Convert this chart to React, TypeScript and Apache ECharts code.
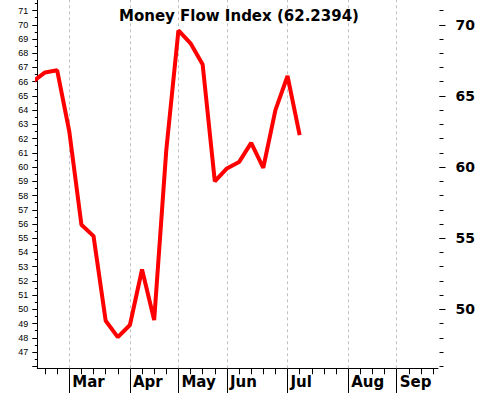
import React, { useEffect, useRef } from 'react';
import * as echarts from 'echarts';

// Weekly Money Flow Index readings (week index counted from the first week tick)
const weekIndex = [-1, 0, 1, 2, 3, 4, 5, 6, 7, 8, 9, 10, 11, 12, 13, 14, 15, 16, 17, 18, 19, 20, 21];
const mfiValues = [66.0, 66.65, 66.8, 62.5, 55.95, 55.15, 49.2, 48.05, 48.9, 52.8, 49.25, 61.2, 69.6, 68.7, 67.2, 59.0, 59.9, 60.35, 61.7, 59.95, 64.0, 66.4, 62.2394];

// Month labels and the week tick where each month starts
const monthLabels = ['Mar', 'Apr', 'May', 'Jun', 'Jul', 'Aug', 'Sep'];
const monthWeeks = [2, 7, 11, 15, 20, 25, 29];
const weekTicks = [0, 1, 2, 3, 4, 5, 6, 7, 8, 9, 10, 11, 12, 13, 14, 15, 16, 17, 18, 19, 20, 21, 22, 23, 24, 25, 26, 27, 28, 29, 30, 31, 32];

// Value axis ticks / labels
const leftLabelValues = [47, 48, 49, 50, 51, 52, 53, 54, 55, 56, 57, 58, 59, 60, 61, 62, 63, 64, 65, 66, 67, 68, 69, 70, 71];
const leftTickValues = [46, 47, 48, 49, 50, 51, 52, 53, 54, 55, 56, 57, 58, 59, 60, 61, 62, 63, 64, 65, 66, 67, 68, 69, 70, 71];
const leftHalfTicks = [46.5, 47.5, 48.5, 49.5, 50.5, 51.5, 52.5, 53.5, 54.5, 55.5, 56.5, 57.5, 58.5, 59.5, 60.5, 61.5, 62.5, 63.5, 64.5, 65.5, 66.5, 67.5, 68.5, 69.5, 70.5, 71.5];
const rightLabelValues = [50, 55, 60, 65, 70];
const rightTickValues = [46, 47, 48, 49, 50, 51, 52, 53, 54, 55, 56, 57, 58, 59, 60, 61, 62, 63, 64, 65, 66, 67, 68, 69, 70, 71];

const titleText = 'Money Flow Index (62.2394)';

const Y_MIN = 45.86;
const Y_MAX = 71.74;
const X_MIN = -0.639;
const X_MAX = 32.41;

export default function App() {
  const ref = useRef<HTMLDivElement>(null);

  useEffect(() => {
    if (!ref.current) return;
    const chart = echarts.init(ref.current, undefined, { renderer: 'svg' });

    const baseY = {
      type: 'value',
      min: Y_MIN,
      max: Y_MAX,
      splitLine: { show: false },
    };

    const option: any = {
      animation: false,
      backgroundColor: '#ffffff',
      title: {
        text: titleText,
        left: 'center',
        top: 3,
        textStyle: {
          fontFamily: 'DejaVu Sans',
          fontWeight: 'bold',
          fontSize: 15,
          color: '#000',
        },
      },
      grid: {
        left: 37.3,
        right: 40,
        top: 0,
        bottom: 24.7,
        containLabel: false,
        outerBoundsMode: 'none',
      },
      xAxis: [
        {
          type: 'value',
          min: X_MIN,
          max: X_MAX,
          position: 'bottom',
          splitLine: { show: false },
          axisLine: { show: true, onZero: false, lineStyle: { color: '#000', width: 1 } },
          axisTick: { show: true, customValues: weekTicks, length: 6, lineStyle: { color: '#000' } },
          axisLabel: {
            show: true,
            customValues: monthWeeks,
            formatter: (v: number) => {
              const i = monthWeeks.indexOf(Math.round(v));
              return i >= 0 ? monthLabels[i] : '';
            },
            align: 'left',
            verticalAlign: 'top',
            padding: [0, 0, 0, 3],
            margin: 6,
            fontFamily: 'DejaVu Sans',
            fontWeight: 'bold',
            fontSize: 15,
            color: '#000',
          },
        },
        {
          type: 'value',
          min: X_MIN,
          max: X_MAX,
          position: 'bottom',
          splitLine: { show: false },
          axisLine: { show: false, onZero: false },
          axisTick: { show: true, customValues: monthWeeks, length: 25, lineStyle: { color: '#000' } },
          axisLabel: { show: false },
        },
      ],
      yAxis: [
        {
          ...baseY,
          position: 'left',
          axisLine: { show: true, onZero: false, lineStyle: { color: '#000', width: 1 } },
          axisTick: { show: true, customValues: leftTickValues, length: 5, lineStyle: { color: '#000' } },
          axisLabel: {
            show: true,
            customValues: leftLabelValues,
            margin: 9,
            fontFamily: 'Liberation Sans',
            fontSize: 9,
            color: '#000',
          },
        },
        {
          ...baseY,
          position: 'left',
          axisLine: { show: false, onZero: false },
          axisTick: { show: true, customValues: leftHalfTicks, length: 2.5, lineStyle: { color: '#000' } },
          axisLabel: { show: false },
        },
        {
          ...baseY,
          position: 'right',
          offset: 1.5,
          axisLine: { show: false, onZero: false },
          axisTick: { show: true, customValues: rightTickValues, length: 4, lineStyle: { color: '#000' } },
          axisLabel: { show: false },
        },
        {
          ...baseY,
          position: 'right',
          offset: 1.5,
          axisLine: { show: false, onZero: false },
          axisTick: { show: true, customValues: rightLabelValues, length: 6, lineStyle: { color: '#000' } },
          axisLabel: {
            show: true,
            customValues: rightLabelValues,
            margin: 16,
            fontFamily: 'DejaVu Sans',
            fontWeight: 'bold',
            fontSize: 14,
            color: '#000',
          },
        },
      ],
      series: [
        {
          type: 'line',
          xAxisIndex: 0,
          yAxisIndex: 0,
          data: [],
          z: 1,
          silent: true,
          markLine: {
            z: 1,
            silent: true,
            symbol: ['none', 'none'],
            label: { show: false },
            lineStyle: { color: '#c0c0c0', type: [3, 3], width: 1 },
            data: monthWeeks.map((w) => ({ xAxis: w })),
          },
        },
        {
          type: 'line',
          xAxisIndex: 0,
          yAxisIndex: 0,
          z: 4,
          clip: true,
          symbol: 'none',
          lineStyle: { color: '#ff0000', width: 4 },
          data: weekIndex.map((w, i) => [w, mfiValues[i]]),
        },
      ],
    };

    chart.setOption(option);
    return () => chart.dispose();
  }, []);

  return (
    <div
      ref={ref}
      style={{ position: 'fixed', left: 0, top: 0, width: 478, height: 393, background: '#fff' }}
    />
  );
}
